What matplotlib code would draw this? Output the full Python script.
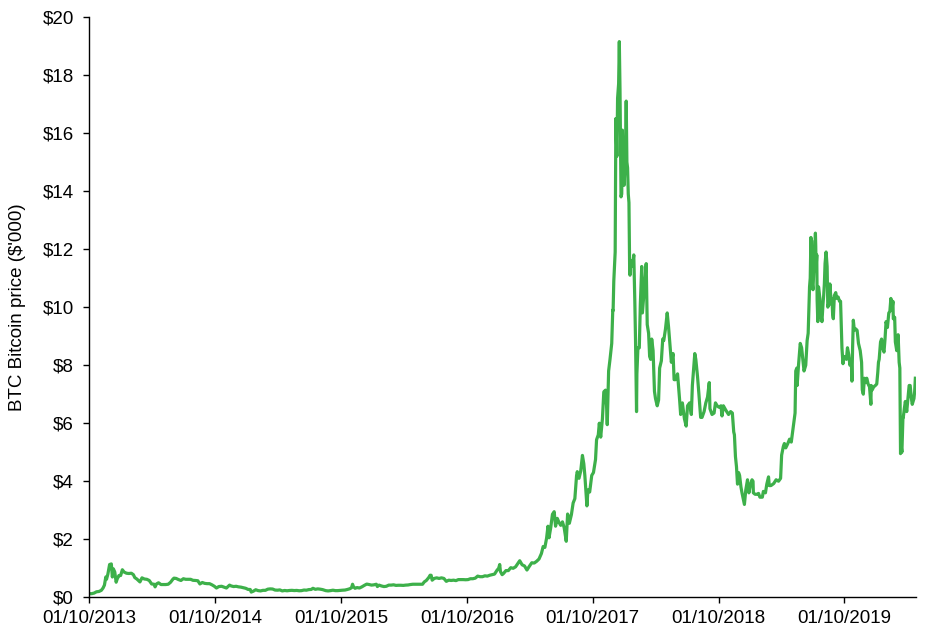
import matplotlib
matplotlib.use("Agg")
import matplotlib.pyplot as plt
import matplotlib.dates as mdates
import pandas as pd

# ---- Data: BTC price in $'000 ----
dates_2013 = ["2013-10-01", "2013-10-08", "2013-10-15", "2013-10-22", "2013-10-29", "2013-11-05",
              "2013-11-10", "2013-11-14", "2013-11-18", "2013-11-20", "2013-11-24", "2013-11-29",
              "2013-12-04", "2013-12-07", "2013-12-10", "2013-12-14", "2013-12-18", "2013-12-21",
              "2013-12-26", "2013-12-31"]
price_2013 = [0.125, 0.125, 0.145, 0.19, 0.20, 0.24, 0.32, 0.42, 0.70, 0.62, 0.80, 1.13,
              1.15, 0.70, 0.98, 0.87, 0.52, 0.63, 0.75, 0.75]

dates_2014 = ["2014-01-05", "2014-01-10", "2014-01-17", "2014-01-24", "2014-01-31", "2014-02-06",
              "2014-02-10", "2014-02-16", "2014-02-25", "2014-03-03", "2014-03-10", "2014-03-17",
              "2014-03-24", "2014-03-31", "2014-04-07", "2014-04-10", "2014-04-14", "2014-04-20",
              "2014-04-27", "2014-05-04", "2014-05-11", "2014-05-18", "2014-05-25", "2014-06-01",
              "2014-06-04", "2014-06-10", "2014-06-17", "2014-06-24", "2014-07-01", "2014-07-08",
              "2014-07-15", "2014-07-22", "2014-07-29", "2014-08-05", "2014-08-12", "2014-08-18",
              "2014-08-25", "2014-09-01", "2014-09-08", "2014-09-15", "2014-09-22", "2014-09-29",
              "2014-10-05", "2014-10-12", "2014-10-20", "2014-10-27", "2014-11-03", "2014-11-12",
              "2014-11-17", "2014-11-24", "2014-12-01", "2014-12-08", "2014-12-15", "2014-12-22",
              "2014-12-29"]
price_2014 = [0.95, 0.87, 0.83, 0.82, 0.83, 0.78, 0.68, 0.63, 0.53, 0.67, 0.63, 0.62,
              0.58, 0.46, 0.45, 0.36, 0.46, 0.50, 0.44, 0.44, 0.44, 0.45, 0.52, 0.63,
              0.66, 0.65, 0.61, 0.58, 0.64, 0.62, 0.62, 0.62, 0.585, 0.58, 0.57, 0.46,
              0.51, 0.48, 0.47, 0.47, 0.43, 0.38, 0.32, 0.37, 0.38, 0.35, 0.32, 0.42,
              0.39, 0.37, 0.38, 0.36, 0.35, 0.33, 0.31]

dates_2015 = ["2015-01-05", "2015-01-11", "2015-01-14", "2015-01-20", "2015-01-27", "2015-02-03",
              "2015-02-10", "2015-02-17", "2015-02-24", "2015-03-03", "2015-03-10", "2015-03-17",
              "2015-03-24", "2015-03-31", "2015-04-07", "2015-04-14", "2015-04-21", "2015-04-28",
              "2015-05-05", "2015-05-12", "2015-05-19", "2015-05-26", "2015-06-02", "2015-06-09",
              "2015-06-16", "2015-06-23", "2015-06-30", "2015-07-07", "2015-07-12", "2015-07-19",
              "2015-07-26", "2015-08-02", "2015-08-09", "2015-08-18", "2015-08-25", "2015-09-01",
              "2015-09-08", "2015-09-15", "2015-09-22", "2015-09-29", "2015-10-06", "2015-10-13",
              "2015-10-20", "2015-10-27", "2015-11-01", "2015-11-04", "2015-11-06", "2015-11-11",
              "2015-11-17", "2015-11-24", "2015-12-01", "2015-12-08", "2015-12-15", "2015-12-22",
              "2015-12-29"]
price_2015 = [0.27, 0.27, 0.18, 0.21, 0.26, 0.23, 0.22, 0.24, 0.24, 0.28, 0.29, 0.285,
              0.25, 0.245, 0.255, 0.22, 0.235, 0.225, 0.235, 0.24, 0.232, 0.237, 0.225, 0.23,
              0.25, 0.245, 0.265, 0.27, 0.31, 0.275, 0.29, 0.28, 0.265, 0.23, 0.22, 0.23,
              0.245, 0.23, 0.23, 0.238, 0.245, 0.25, 0.27, 0.295, 0.33, 0.45, 0.38, 0.31,
              0.335, 0.32, 0.36, 0.41, 0.455, 0.44, 0.42]

dates_2016 = ["2016-01-05", "2016-01-12", "2016-01-15", "2016-01-20", "2016-01-27", "2016-02-03",
              "2016-02-10", "2016-02-17", "2016-02-24", "2016-03-02", "2016-03-09", "2016-03-16",
              "2016-03-23", "2016-03-30", "2016-04-06", "2016-04-13", "2016-04-20", "2016-04-27",
              "2016-05-04", "2016-05-11", "2016-05-18", "2016-05-25", "2016-05-30", "2016-06-05",
              "2016-06-12", "2016-06-16", "2016-06-19", "2016-06-22", "2016-06-28", "2016-07-05",
              "2016-07-12", "2016-07-19", "2016-07-26", "2016-08-02", "2016-08-09", "2016-08-16",
              "2016-08-23", "2016-08-30", "2016-09-06", "2016-09-13", "2016-09-20", "2016-09-27",
              "2016-10-04", "2016-10-11", "2016-10-18", "2016-10-25", "2016-11-01", "2016-11-08",
              "2016-11-15", "2016-11-22", "2016-11-29", "2016-12-06", "2016-12-13", "2016-12-20",
              "2016-12-27"]
price_2016 = [0.43, 0.45, 0.37, 0.42, 0.39, 0.37, 0.38, 0.42, 0.42, 0.43, 0.41, 0.415,
              0.415, 0.41, 0.42, 0.425, 0.44, 0.45, 0.45, 0.45, 0.45, 0.45, 0.53, 0.58,
              0.68, 0.76, 0.76, 0.59, 0.65, 0.67, 0.65, 0.67, 0.65, 0.55, 0.59, 0.58,
              0.59, 0.575, 0.61, 0.61, 0.61, 0.605, 0.61, 0.64, 0.64, 0.66, 0.73, 0.71,
              0.71, 0.74, 0.73, 0.76, 0.78, 0.80, 0.93]

dates_2017 = ["2017-01-01", "2017-01-04", "2017-01-06", "2017-01-11", "2017-01-15", "2017-01-22",
              "2017-01-29", "2017-02-05", "2017-02-12", "2017-02-19", "2017-02-26", "2017-03-03",
              "2017-03-10", "2017-03-17", "2017-03-24", "2017-03-31", "2017-04-07", "2017-04-14",
              "2017-04-21", "2017-04-28", "2017-05-05", "2017-05-10", "2017-05-15", "2017-05-20",
              "2017-05-24", "2017-05-25", "2017-05-27", "2017-06-01", "2017-06-06", "2017-06-11",
              "2017-06-15", "2017-06-20", "2017-06-25", "2017-06-30", "2017-07-05", "2017-07-10",
              "2017-07-16", "2017-07-20", "2017-07-25", "2017-07-31", "2017-08-05", "2017-08-10",
              "2017-08-15", "2017-08-17", "2017-08-22", "2017-08-27", "2017-09-01", "2017-09-05",
              "2017-09-08", "2017-09-14", "2017-09-17", "2017-09-22", "2017-09-28", "2017-10-03",
              "2017-10-09", "2017-10-12", "2017-10-17", "2017-10-20", "2017-10-24", "2017-10-29",
              "2017-11-02", "2017-11-07", "2017-11-10", "2017-11-12", "2017-11-16", "2017-11-20",
              "2017-11-25", "2017-11-28", "2017-11-29", "2017-12-01", "2017-12-05", "2017-12-07",
              "2017-12-10", "2017-12-12", "2017-12-15", "2017-12-17", "2017-12-19", "2017-12-22",
              "2017-12-24", "2017-12-26", "2017-12-29", "2017-12-31"]
price_2017 = [1.00, 1.13, 0.89, 0.78, 0.82, 0.92, 0.92, 1.02, 1.00, 1.05, 1.17, 1.26,
              1.12, 1.08, 0.94, 1.07, 1.19, 1.18, 1.24, 1.32, 1.51, 1.75, 1.72, 2.04,
              2.45, 2.30, 2.05, 2.40, 2.86, 2.95, 2.45, 2.72, 2.58, 2.48, 2.60, 2.40,
              1.93, 2.87, 2.55, 2.85, 3.25, 3.40, 4.20, 4.33, 4.10, 4.35, 4.89, 4.60,
              4.20, 3.15, 3.70, 3.63, 4.20, 4.30, 4.75, 5.43, 5.60, 6.00, 5.52, 6.15,
              7.08, 7.14, 6.60, 5.95, 7.80, 8.20, 8.75, 9.90, 9.88, 10.9, 11.9, 16.5,
              15.2, 17.2, 17.7, 19.15, 17.5, 13.8, 13.9, 16.1, 14.6, 14.2]

dates_2018 = ["2018-01-02", "2018-01-04", "2018-01-06", "2018-01-08", "2018-01-10", "2018-01-12",
              "2018-01-14", "2018-01-16", "2018-01-17", "2018-01-19", "2018-01-21", "2018-01-24",
              "2018-01-28", "2018-01-31", "2018-02-02", "2018-02-05", "2018-02-06", "2018-02-09",
              "2018-02-13", "2018-02-16", "2018-02-20", "2018-02-22", "2018-02-26", "2018-03-01",
              "2018-03-05", "2018-03-08", "2018-03-12", "2018-03-15", "2018-03-18", "2018-03-21",
              "2018-03-25", "2018-03-29", "2018-04-01", "2018-04-06", "2018-04-10", "2018-04-13",
              "2018-04-18", "2018-04-22", "2018-04-25", "2018-04-30", "2018-05-05", "2018-05-09",
              "2018-05-13", "2018-05-17", "2018-05-22", "2018-05-25", "2018-05-29", "2018-06-04",
              "2018-06-10", "2018-06-13", "2018-06-18", "2018-06-24", "2018-06-29", "2018-07-03",
              "2018-07-09", "2018-07-14", "2018-07-17", "2018-07-24", "2018-07-27", "2018-08-01",
              "2018-08-05", "2018-08-10", "2018-08-14", "2018-08-20", "2018-08-25", "2018-08-30",
              "2018-09-04", "2018-09-06", "2018-09-12", "2018-09-18", "2018-09-22", "2018-09-27",
              "2018-10-02", "2018-10-08", "2018-10-11", "2018-10-15", "2018-10-22", "2018-10-30",
              "2018-11-05", "2018-11-10", "2018-11-14", "2018-11-16", "2018-11-19", "2018-11-22",
              "2018-11-25", "2018-11-28", "2018-12-01", "2018-12-05", "2018-12-08", "2018-12-15",
              "2018-12-19", "2018-12-24", "2018-12-28"]
price_2018 = [14.8, 15.2, 17.1, 15.0, 14.8, 13.9, 13.6, 11.3, 11.1, 11.6, 11.6, 11.4,
              11.8, 10.2, 8.9, 6.4, 7.7, 8.6, 8.6, 10.1, 11.4, 9.8, 10.4, 10.9,
              11.5, 9.4, 9.1, 8.3, 8.2, 8.9, 8.5, 7.1, 6.85, 6.6, 6.8, 7.9,
              8.15, 8.9, 8.85, 9.25, 9.8, 9.3, 8.7, 8.1, 8.4, 7.5, 7.5, 7.7,
              6.8, 6.3, 6.7, 6.15, 5.9, 6.6, 6.7, 6.3, 7.3, 8.4, 8.2, 7.6,
              7.0, 6.2, 6.2, 6.4, 6.7, 6.9, 7.4, 6.5, 6.3, 6.35, 6.7, 6.6,
              6.55, 6.6, 6.25, 6.6, 6.45, 6.3, 6.4, 6.35, 5.7, 5.6, 4.85, 4.5,
              3.9, 4.3, 4.2, 3.8, 3.6, 3.2, 3.7, 4.05, 3.6]

dates_2019 = ["2019-01-01", "2019-01-06", "2019-01-09", "2019-01-10", "2019-01-15", "2019-01-20",
              "2019-01-25", "2019-01-29", "2019-02-05", "2019-02-08", "2019-02-14", "2019-02-18",
              "2019-02-23", "2019-02-25", "2019-03-02", "2019-03-10", "2019-03-17", "2019-03-24",
              "2019-03-30", "2019-04-02", "2019-04-07", "2019-04-10", "2019-04-14", "2019-04-20",
              "2019-04-25", "2019-04-30", "2019-05-05", "2019-05-09", "2019-05-11", "2019-05-13",
              "2019-05-16", "2019-05-17", "2019-05-21", "2019-05-26", "2019-05-30", "2019-06-03",
              "2019-06-06", "2019-06-11", "2019-06-15", "2019-06-18", "2019-06-22", "2019-06-24",
              "2019-06-26", "2019-06-27", "2019-06-28", "2019-06-30", "2019-07-02", "2019-07-04",
              "2019-07-06", "2019-07-09", "2019-07-10", "2019-07-11", "2019-07-13", "2019-07-14",
              "2019-07-16", "2019-07-17", "2019-07-18", "2019-07-22", "2019-07-24", "2019-07-28",
              "2019-07-31", "2019-08-02", "2019-08-04", "2019-08-06", "2019-08-09", "2019-08-12",
              "2019-08-14", "2019-08-18", "2019-08-20", "2019-08-24", "2019-08-26", "2019-08-28",
              "2019-08-30", "2019-09-02", "2019-09-06", "2019-09-09", "2019-09-13", "2019-09-17",
              "2019-09-20", "2019-09-24", "2019-09-27", "2019-09-30", "2019-10-03", "2019-10-07",
              "2019-10-10", "2019-10-14", "2019-10-17", "2019-10-21", "2019-10-23", "2019-10-25",
              "2019-10-27", "2019-10-30", "2019-11-03", "2019-11-07", "2019-11-11", "2019-11-16",
              "2019-11-20", "2019-11-22", "2019-11-25", "2019-11-28", "2019-12-01", "2019-12-05",
              "2019-12-09", "2019-12-13", "2019-12-17", "2019-12-18", "2019-12-21", "2019-12-25",
              "2019-12-30"]
price_2019 = [3.85, 4.05, 4.0, 3.6, 3.55, 3.55, 3.58, 3.45, 3.45, 3.65, 3.6, 3.9,
              4.15, 3.85, 3.85, 3.92, 4.05, 4.0, 4.1, 4.9, 5.2, 5.3, 5.15, 5.3,
              5.45, 5.35, 5.8, 6.15, 6.35, 7.8, 7.9, 7.3, 8.0, 8.75, 8.6, 8.15,
              7.8, 8.0, 8.85, 9.1, 10.7, 11.0, 12.4, 11.0, 12.3, 10.8, 10.6, 11.2,
              11.3, 12.55, 12.1, 11.35, 11.8, 10.25, 9.5, 9.7, 10.7, 10.3, 9.85, 9.5,
              10.1, 10.4, 10.8, 11.5, 11.9, 11.4, 10.0, 10.2, 10.8, 10.1, 10.3, 9.75,
              9.6, 10.4, 10.5, 10.3, 10.35, 10.2, 10.2, 8.6, 8.05, 8.3, 8.25, 8.2,
              8.6, 8.35, 8.0, 8.2, 7.45, 8.65, 9.55, 9.2, 9.25, 9.2, 8.75, 8.5,
              8.1, 7.15, 7.0, 7.55, 7.4, 7.55, 7.35, 7.25, 6.65, 7.3, 7.15, 7.25,
              7.3]

dates_2020 = ["2020-01-03", "2020-01-06", "2020-01-08", "2020-01-10", "2020-01-14", "2020-01-17",
              "2020-01-20", "2020-01-24", "2020-01-27", "2020-01-30", "2020-02-03", "2020-02-07",
              "2020-02-10", "2020-02-13", "2020-02-16", "2020-02-19", "2020-02-20", "2020-02-24",
              "2020-02-26", "2020-03-01", "2020-03-05", "2020-03-08", "2020-03-10", "2020-03-12",
              "2020-03-14", "2020-03-16", "2020-03-19", "2020-03-20", "2020-03-23", "2020-03-26",
              "2020-03-30", "2020-04-02", "2020-04-06", "2020-04-09", "2020-04-12", "2020-04-15",
              "2020-04-20", "2020-04-22", "2020-04-24"]
price_2020 = [7.35, 7.75, 8.1, 8.2, 8.8, 8.9, 8.6, 8.45, 8.9, 9.5, 9.3, 9.8,
              9.85, 10.3, 9.9, 10.2, 9.6, 9.65, 8.8, 8.5, 9.05, 8.1, 7.9, 4.95,
              5.2, 5.0, 6.2, 6.2, 6.5, 6.75, 6.4, 6.8, 7.3, 7.3, 6.9, 6.65,
              6.85, 7.1, 7.55]

tick_dates = ["2013-10-01", "2014-10-01", "2015-10-01", "2016-10-01",
              "2017-10-01", "2018-10-01", "2019-10-01"]
y_ticks = [0, 2, 4, 6, 8, 10, 12, 14, 16, 18, 20]
y_label = "BTC Bitcoin price ($'000)"

# ---- Assemble ----
all_dates = (dates_2013 + dates_2014 + dates_2015 + dates_2016 + dates_2017
             + dates_2018 + dates_2019 + dates_2020)
all_prices = (price_2013 + price_2014 + price_2015 + price_2016 + price_2017
              + price_2018 + price_2019 + price_2020)
df = pd.DataFrame({"date": pd.to_datetime(all_dates), "price": all_prices})

plt.rcParams['font.family'] = ['Liberation Sans', 'DejaVu Sans']

fig = plt.figure(figsize=(9.27, 6.33), dpi=100)
ax = fig.add_axes([0.0963, 0.0564, 0.9878 - 0.0963, 0.9732 - 0.0564])

ax.plot(df["date"], df["price"], color="#3DB04A", lw=2.3, solid_joinstyle="round")

ax.set_xlim(pd.Timestamp("2013-10-01"), pd.Timestamp("2020-04-25"))
ax.set_ylim(0, 20)

ax.set_xticks(pd.to_datetime(tick_dates))
ax.xaxis.set_major_formatter(mdates.DateFormatter("%d/%m/%Y"))
ax.set_yticks(y_ticks)
ax.set_yticklabels([f"${v}" for v in y_ticks])

for s in ["top", "right"]:
    ax.spines[s].set_visible(False)
for s in ["left", "bottom"]:
    ax.spines[s].set_linewidth(1.0)
    ax.spines[s].set_color("black")

ax.tick_params(axis="both", direction="out", length=4, width=1.0, colors="black",
               labelsize=13.5)
ax.tick_params(axis="y", pad=7)
ax.tick_params(axis="x", pad=5)

ax.set_ylabel(y_label, fontsize=13.5, labelpad=12)

fig.savefig("out.png", dpi=100)
